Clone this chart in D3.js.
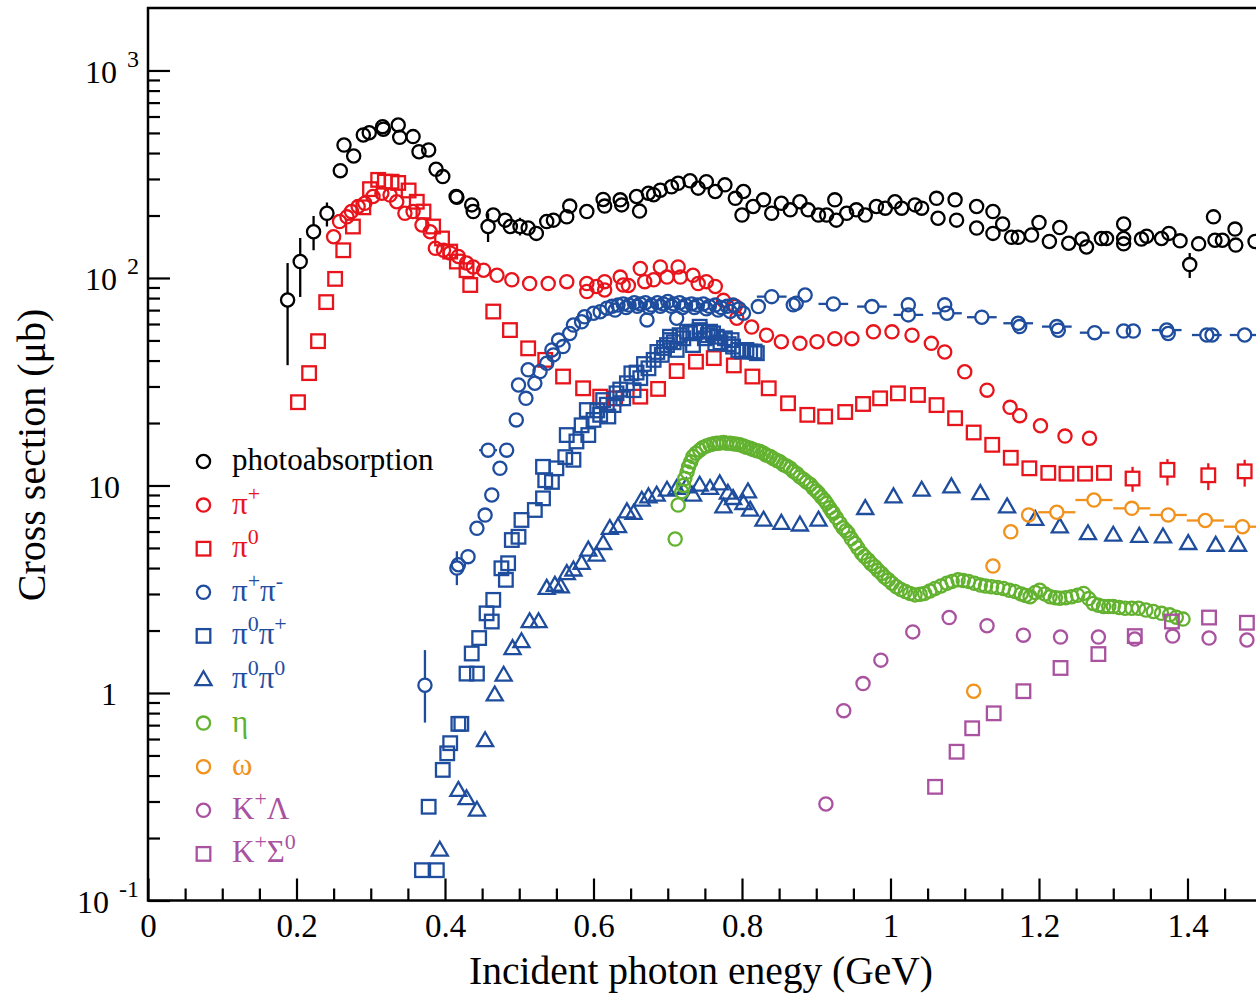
<!DOCTYPE html>
<html><head><meta charset="utf-8">
<script src="https://cdn.jsdelivr.net/npm/d3@7"></script>
<style>body{margin:0;background:#fff} svg{display:block}</style>
</head><body><svg id="c" width="1256" height="994"></svg>
<script>
// ---------------- DATA (E in GeV, cross section in microbarn) ----------------
const photoabs = [[0.188,78.3],[0.205,120],[0.223,167],[0.241,205],[0.259,329],[0.264,437],[0.277,387],[0.290,489],[0.298,501],[0.316,536],[0.317,521],[0.337,546],[0.339,476],[0.357,480],[0.365,406],[0.378,414],[0.388,334],[0.397,308],[0.415,247],[0.416,245],[0.436,225],[0.438,209],[0.458,177],[0.465,201],[0.481,190],[0.488,177],[0.501,177],[0.512,174],[0.523,164],[0.537,187],[0.546,190],[0.564,197],[0.568,222],[0.591,209],[0.613,239],[0.615,222],[0.636,238],[0.638,225],[0.658,247],[0.662,210],[0.674,256],[0.681,252],[0.690,265],[0.705,275],[0.714,286],[0.730,294],[0.741,271],[0.752,291],[0.764,261],[0.777,281],[0.791,242],[0.802,261],[0.800,201],[0.815,221],[0.829,238],[0.840,205],[0.853,229],[0.865,213],[0.878,233],[0.889,213],[0.903,201],[0.914,201],[0.925,238],[0.927,190],[0.941,205],[0.954,213],[0.966,201],[0.981,221],[0.993,217],[1.006,233],[1.015,217],[1.033,225],[1.042,217],[1.062,242],[1.064,194],[1.087,238],[1.089,190],[1.116,221],[1.116,174],[1.138,209],[1.138,164],[1.151,182],[1.163,157],[1.172,157],[1.190,161],[1.200,185],[1.214,150],[1.228,175],[1.240,147],[1.258,154],[1.264,141],[1.284,155],[1.291,155],[1.314,182],[1.314,155],[1.314,146],[1.338,154],[1.345,159],[1.365,155],[1.375,164],[1.390,151],[1.403,116],[1.415,146],[1.435,197],[1.437,152],[1.447,152],[1.464,172],[1.465,144],[1.491,150]];
const photoabsErr = [[0.188,38,118],[0.205,81,156],[0.223,136,199],[0.241,177,231],[0.458,149,205],[0.501,160,195],[1.403,100,132]];

const piPlus = [[0.250,158],[0.258,187],[0.268,197],[0.274,209],[0.283,221],[0.292,229],[0.303,247],[0.315,256],[0.326,251],[0.335,233],[0.346,205],[0.357,209],[0.369,180],[0.380,167],[0.387,139],[0.398,136],[0.407,132],[0.418,127],[0.429,118],[0.438,113],[0.452,109],[0.470,103],[0.490,98],[0.514,94],[0.539,94],[0.564,96],[0.591,94],[0.591,86],[0.604,91],[0.615,96],[0.615,87.5],[0.636,101],[0.640,92.5],[0.647,92],[0.663,111],[0.669,96],[0.681,98],[0.690,113],[0.699,101],[0.714,113],[0.717,101],[0.734,103],[0.741,94],[0.752,96],[0.764,91],[0.775,78],[0.791,73],[0.793,64],[0.813,58],[0.833,53],[0.853,49.3],[0.878,48.4],[0.901,49.3],[0.925,51],[0.948,51],[0.977,55],[1.002,55],[1.029,53],[1.055,48.4],[1.073,44],[1.100,35.3],[1.130,28.8],[1.161,23.8],[1.174,21.7],[1.202,19.4],[1.235,17.3],[1.268,16.9]];

const piZero = [[0.202,25.2],[0.217,34.8],[0.229,49.6],[0.240,76.5],[0.252,99],[0.263,136],[0.276,177],[0.290,219],[0.299,268],[0.310,297],[0.319,291],[0.328,291],[0.337,287],[0.351,264],[0.362,233],[0.371,209],[0.384,177],[0.396,155],[0.407,134],[0.416,120],[0.429,109],[0.434,92.5],[0.465,68.9],[0.4875,56.1],[0.512,45.8],[0.535,40.3],[0.559,33.5],[0.586,29.4],[0.609,26.8],[0.629,26.3],[0.663,26.8],[0.687,29.2],[0.712,35.6],[0.738,39.5],[0.762,41.1],[0.789,37.9],[0.814,33.5],[0.836,29.4],[0.862,24.9],[0.888,21.9],[0.912,21.5],[0.939,22.6],[0.963,24.7],[0.986,26.3],[1.010,27.8],[1.037,27.3],[1.062,24.4],[1.087,21.1],[1.112,18.0],[1.137,15.7],[1.162,13.6],[1.187,12.1],[1.2125,11.5],[1.237,11.4],[1.262,11.4],[1.2875,11.5],[1.326,10.8],[1.373,11.9],[1.428,11.2],[1.477,11.7]];
const piZeroErr = [[1.326,9.33,12.3],[1.373,10.0,13.4],[1.428,9.5,12.8],[1.477,9.87,13.3]];

const piPiCharged = [[0.373,1.09],[0.416,4.0],[0.418,4.15],[0.431,4.54],[0.443,6.22],[0.454,7.2],[0.463,9.0],[0.474,12.1],[0.483,14.8],[0.496,20.7],[0.499,30.5],[0.509,26.3],[0.512,36.1],[0.521,31.1],[0.528,35.4],[0.537,38.8],[0.544,45],[0.546,42.6],[0.553,50.2],[0.559,46.7],[0.568,54],[0.573,59.3],[0.584,61.5],[0.588,65],[0.600,67.6],[0.609,68.8],[0.618,71.5],[0.625,73],[0.629,70],[0.633,74],[0.640,75],[0.644,72],[0.648,74],[0.655,76],[0.659,73],[0.663,75],[0.670,76],[0.672,62.8],[0.675,72],[0.678,74],[0.686,76],[0.690,73],[0.694,75],[0.700,77],[0.705,73],[0.708,75],[0.712,64],[0.716,76],[0.720,72],[0.724,74],[0.732,75],[0.736,72],[0.740,74],[0.748,75],[0.752,71],[0.756,73],[0.764,74],[0.768,70],[0.772,72],[0.780,73],[0.784,69],[0.788,74],[0.796,71],[0.802,67.6],[0.822,72.8],[0.869,74.2],[0.873,75.5],[0.885,82.8],[1.024,74.2],[1.073,74.2],[1.174,58.3],[1.226,56],[1.314,55.5],[1.327,55.5],[1.374,54],[1.433,53.1]];
const piPiChargedErr = [[0.373,0.72,1.61],[0.416,3.31,4.82]];
const piPiChargedBinned = [[0.458,14.8,0.012],[0.840,81.3,0.02],[0.923,75,0.02],[0.975,72.8,0.02],[1.024,66.4,0.02],[1.076,67.6,0.02],[1.123,64.7,0.02],[1.172,60.5,0.02],[1.224,58.3,0.02],[1.275,54.5,0.02],[1.372,56.1,0.02],[1.426,53.1,0.02],[1.477,53.1,0.02]];

const piZeroPiPlus = [[0.369,0.14],[0.389,0.14],[0.378,0.283],[0.397,0.426],[0.403,0.512],[0.407,0.573],[0.418,0.71],[0.422,0.71],[0.429,1.24],[0.443,1.24],[0.436,1.55],[0.446,1.84],[0.456,2.42],[0.463,2.21],[0.465,2.81],[0.476,3.99],[0.482,3.51],[0.485,4.22],[0.490,5.46],[0.499,5.66],[0.503,6.82],[0.521,7.62],[0.532,8.67],[0.535,10.6],[0.544,10.4],[0.532,12.3],[0.550,12.1],[0.562,13.7],[0.564,17.5],[0.573,13.3],[0.577,16.3],[0.584,19.5],[0.593,17.5],[0.591,23.1],[0.600,20.7],[0.605,23],[0.609,21.9],[0.613,25.8],[0.618,24.5],[0.620,21.5],[0.627,24.4],[0.631,27.8],[0.636,29],[0.640,26.3],[0.645,31.1],[0.651,34.7],[0.654,28.8],[0.658,35],[0.663,32.9],[0.668,38.5],[0.674,36.7],[0.681,40.3],[0.686,44],[0.692,42.6],[0.695,46],[0.699,47.5],[0.703,52.1],[0.703,50.2],[0.708,49],[0.712,45],[0.716,53],[0.721,51.2],[0.726,55.1],[0.730,54.1],[0.734,47.5],[0.737,55],[0.743,56.1],[0.743,58.2],[0.750,51.2],[0.754,53],[0.757,55.1],[0.761,54.1],[0.764,48.4],[0.766,52.1],[0.771,49],[0.777,51.2],[0.782,48],[0.786,50.2],[0.788,46.7],[0.795,45],[0.800,44.2],[0.806,45],[0.811,44.2],[0.817,44.2],[0.820,43.4]];

const piZeroPiZero = [[0.393,0.175],[0.418,0.34],[0.429,0.31],[0.443,0.273],[0.454,0.59],[0.467,0.98],[0.479,1.22],[0.491,1.64],[0.503,1.77],[0.514,2.21],[0.526,2.21],[0.537,3.2],[0.548,3.31],[0.556,3.25],[0.564,3.77],[0.573,3.92],[0.584,4.22],[0.593,4.89],[0.604,4.62],[0.613,5.26],[0.622,6.22],[0.633,6.34],[0.645,7.48],[0.654,7.35],[0.665,8.51],[0.674,8.83],[0.685,9.0],[0.699,9.51],[0.712,9.69],[0.725,9.87],[0.734,9.0],[0.743,10.05],[0.757,9.69],[0.770,10.2],[0.775,7.9],[0.781,9.2],[0.788,8.67],[0.802,8.2],[0.808,9.33],[0.811,7.62],[0.829,6.82],[0.853,6.58],[0.878,6.46],[0.903,6.82],[0.966,7.76],[1.004,8.83],[1.042,9.51],[1.082,9.87],[1.121,9.16],[1.157,7.9],[1.195,6.87],[1.228,6.33],[1.266,5.87],[1.300,5.77],[1.335,5.7],[1.367,5.66],[1.401,5.26],[1.438,5.16],[1.468,5.16]];

const etaN = [[0.710,5.52],[0.714,8.05],[0.719,9.33],[0.721,10.0],[0.723,10.8],[0.726,11.6],[0.728,12.3],[0.731,13.0],[0.734,13.8],[0.738,14.3],[0.743,14.8],[0.747,15.2],[0.752,15.5],[0.757,15.7],[0.762,15.9],[0.766,16.0],[0.770,16.0],[0.775,16.1],[0.779,16.0],[0.784,16.0],[0.788,15.9],[0.793,15.8],[0.797,15.7],[0.802,15.5],[0.806,15.3],[0.811,15.1],[0.815,14.9],[0.820,14.7],[0.824,14.6],[0.829,14.3],[0.833,14.0],[0.838,13.8],[0.842,13.5],[0.847,13.2],[0.851,13.0],[0.856,12.6],[0.860,12.4],[0.865,12.1],[0.869,11.7],[0.874,11.4],[0.878,11.0],[0.883,10.7],[0.887,10.4],[0.892,10.1],[0.896,9.7],[0.900,9.4],[0.903,9.17],[0.907,8.8],[0.911,8.5],[0.914,8.2],[0.918,7.8],[0.921,7.5],[0.923,7.35],[0.927,7.0],[0.932,6.58],[0.936,6.25],[0.940,6.05],[0.943,5.89],[0.947,5.55],[0.952,5.26],[0.956,5.0],[0.961,4.71],[0.965,4.55],[0.970,4.37],[0.974,4.2],[0.979,4.06],[0.983,3.9],[0.988,3.77],[0.992,3.62],[0.997,3.51],[1.002,3.38],[1.008,3.25],[1.014,3.15],[1.020,3.08],[1.026,3.02],[1.033,2.97],[1.040,2.99],[1.046,3.02],[1.053,3.1],[1.060,3.19],[1.068,3.28],[1.076,3.38],[1.083,3.45],[1.091,3.51],[1.098,3.48],[1.105,3.45],[1.113,3.38],[1.121,3.31],[1.128,3.28],[1.136,3.25],[1.144,3.22],[1.152,3.19],[1.160,3.13],[1.168,3.08],[1.176,3.0],[1.182,2.95],[1.188,2.91],[1.195,3.05],[1.201,3.13],[1.208,3.0],[1.215,2.91],[1.222,2.88],[1.228,2.86],[1.236,2.88],[1.244,2.91],[1.252,2.96],[1.260,3.02],[1.267,2.85],[1.273,2.70],[1.280,2.65],[1.287,2.61],[1.294,2.61],[1.300,2.61],[1.308,2.58],[1.316,2.56],[1.325,2.56],[1.334,2.56],[1.344,2.51],[1.354,2.47],[1.365,2.42],[1.376,2.38],[1.385,2.32],[1.394,2.27]];

const omegaN = [[1.112,1.02],[1.138,4.09],[1.162,5.98],[1.186,7.21],[1.224,7.43],[1.274,8.51],[1.325,7.76],[1.374,7.21],[1.424,6.78],[1.474,6.33]];
const omegaBins = [[1.224,0.025],[1.274,0.025],[1.325,0.025],[1.374,0.025],[1.424,0.025],[1.474,0.025]];

const kLambda = [[0.913,0.292],[0.937,0.822],[0.963,1.11],[0.987,1.44],[1.030,1.97],[1.079,2.31],[1.130,2.11],[1.179,1.90],[1.229,1.86],[1.280,1.86],[1.329,1.82],[1.380,1.88],[1.429,1.84],[1.480,1.80]];
const kSigma = [[1.060,0.353],[1.089,0.521],[1.110,0.676],[1.139,0.798],[1.179,1.02],[1.229,1.32],[1.280,1.54],[1.329,1.88],[1.379,2.21],[1.429,2.31],[1.480,2.18]];

const legendLabels = ["photoabsorption","π^+","π^0","π^+π^-","π^0π^+","π^0π^0","η","ω","K^+Λ","K^+Σ^0"];
const xTicks = [0,0.2,0.4,0.6,0.8,1.0,1.2,1.4];
const yTicks = [0.1,1,10,100,1000];
const xTitle = "Incident photon enegy (GeV)";
const yTitle = "Cross section (μb)";

// ---------------- STYLE ----------------
const C = {black:"#000000", red:"#e8141b", blue:"#1f4d9e", green:"#62b22f", orange:"#f0921c", purple:"#a9529f"};
const FONT = "'Liberation Serif','Times New Roman',Times,serif";
const R = 6.6, SQ = 13.6, TRI = 112, SW = 2.3;

const series = [
  {data:photoabs, color:C.black, shape:"circle", err:photoabsErr},
  {data:piPlus, color:C.red, shape:"circle"},
  {data:piZero, color:C.red, shape:"square", err:piZeroErr},
  {data:piPiCharged, color:C.blue, shape:"circle", err:piPiChargedErr},
  {data:piPiChargedBinned.map(d=>[d[0],d[1]]), color:C.blue, shape:"circle", xerr:piPiChargedBinned},
  {data:piZeroPiPlus, color:C.blue, shape:"square"},
  {data:piZeroPiZero, color:C.blue, shape:"triangle"},
  {data:etaN, color:C.green, shape:"circle"},
  {data:omegaN, color:C.orange, shape:"circle", xerr:omegaBins.map(b=>[b[0], omegaN.find(o=>o[0]===b[0])[1], b[1]])},
  {data:kLambda, color:C.purple, shape:"circle"},
  {data:kSigma, color:C.purple, shape:"square"}
];
const legendStyle = [
  [C.black,"circle"],[C.red,"circle"],[C.red,"square"],[C.blue,"circle"],[C.blue,"square"],
  [C.blue,"triangle"],[C.green,"circle"],[C.orange,"circle"],[C.purple,"circle"],[C.purple,"square"]
];

// ---------------- SCALES ----------------
const X0 = 148, X1 = 148 + 1.5*742.5, Y0 = 900.5, Y1 = 8;
const x = d3.scaleLinear().domain([0,1.5]).range([X0, X1]);
const y = d3.scaleLog().domain([0.1,2000]).range([Y0, Y1]);

const svg = d3.select("#c");
svg.append("rect").attr("width",1256).attr("height",994).attr("fill","#fff");

svg.append("defs").append("clipPath").attr("id","clip")
  .append("rect").attr("x",X0).attr("y",Y1).attr("width",X1-X0).attr("height",Y0-Y1);

// ---------------- MARKS ----------------
function marker(g, shape, color, cx, cy){
  if(shape==="circle"){
    g.append("circle").attr("cx",cx).attr("cy",cy).attr("r",R)
      .attr("fill","none").attr("stroke",color).attr("stroke-width",SW);
  } else if(shape==="square"){
    g.append("rect").attr("x",cx-SQ/2).attr("y",cy-SQ/2).attr("width",SQ).attr("height",SQ)
      .attr("fill","none").attr("stroke",color).attr("stroke-width",SW);
  } else {
    g.append("path").attr("d",d3.symbol(d3.symbolTriangle, TRI)())
      .attr("transform",`translate(${cx},${cy+1})`)
      .attr("fill","none").attr("stroke",color).attr("stroke-width",SW);
  }
}
const plot = svg.append("g").attr("clip-path","url(#clip)");
series.forEach(s=>{
  const g = plot.append("g");
  const half = s.shape==="circle"?R:SQ/2;
  (s.err||[]).forEach(e=>{
    const cx=x(e[0]), cyv = y(s.data.find(d=>d[0]===e[0])[1]);
    g.append("line").attr("x1",cx).attr("x2",cx).attr("y1",cyv+half).attr("y2",y(e[1]))
      .attr("stroke",s.color).attr("stroke-width",SW);
    g.append("line").attr("x1",cx).attr("x2",cx).attr("y1",cyv-half).attr("y2",y(e[2]))
      .attr("stroke",s.color).attr("stroke-width",SW);
  });
  (s.xerr||[]).forEach(e=>{
    const cx=x(e[0]), cyv=y(e[1]);
    g.append("line").attr("x1",x(e[0]-e[2])).attr("x2",cx-half).attr("y1",cyv).attr("y2",cyv)
      .attr("stroke",s.color).attr("stroke-width",SW);
    g.append("line").attr("x1",cx+half).attr("x2",x(e[0]+e[2])).attr("y1",cyv).attr("y2",cyv)
      .attr("stroke",s.color).attr("stroke-width",SW);
  });
  s.data.forEach(d=>marker(g, s.shape, s.color, x(d[0]), y(d[1])));
});

// ---------------- AXES ----------------
const minorX = d3.range(0.05,1.5,0.05).filter(v=>Math.abs(v/0.2-Math.round(v/0.2))>1e-6);
const minorY = [];
[0.1,1,10,100,1000].forEach(b=>{for(let k=2;k<=9;k++){ if(b*k<2000) minorY.push(b*k);}});

const gx = svg.append("g").attr("transform",`translate(0,${Y0})`)
  .call(d3.axisBottom(x).tickValues(xTicks).tickSizeInner(-22).tickSizeOuter(0).tickPadding(13)
    .tickFormat(d=>String(+d.toFixed(1))));
const gxm = svg.append("g").attr("transform",`translate(0,${Y0})`)
  .call(d3.axisBottom(x).tickValues(minorX).tickSizeInner(-12).tickSizeOuter(0).tickFormat(""));
const gy = svg.append("g").attr("transform",`translate(${X0},0)`)
  .call(d3.axisLeft(y).tickValues(yTicks).tickSizeInner(-22).tickSizeOuter(0).tickPadding(9)
    .tickFormat(d=>String(d)));
const gym = svg.append("g").attr("transform",`translate(${X0},0)`)
  .call(d3.axisLeft(y).tickValues(minorY).tickSizeInner(-12).tickSizeOuter(0).tickFormat(""));

[gx,gxm,gy,gym].forEach(g=>{
  g.select(".domain").remove();
  g.selectAll(".tick line").attr("stroke","#000").attr("stroke-width",2.2);
  g.selectAll("text").attr("font-family",FONT).attr("fill","#000");
});
gx.selectAll(".tick text").attr("font-size",33);
gy.selectAll(".tick text").each(function(d){
  const t = d3.select(this).text(null).attr("font-size",32).attr("dy","0.37em");
  if(d===1){ t.text("1").attr("x",-31); }
  else if(d===10){ t.text("10").attr("x",-28); }
  else {
    const e = Math.round(Math.log10(d));
    t.attr("x",-9);
    t.append("tspan").text("10");
    t.append("tspan").attr("dx",10).attr("dy",-16).attr("font-size",24).text(String(e));
  }
});

// frame
svg.append("rect").attr("x",X0).attr("y",Y1).attr("width",X1-X0).attr("height",Y0-Y1)
  .attr("fill","none").attr("stroke","#000").attr("stroke-width",2.5);

// titles
svg.append("text").attr("x",701).attr("y",984).attr("text-anchor","middle")
  .attr("font-family",FONT).attr("font-size",39.5).text(xTitle);
svg.append("text").attr("transform","translate(45,455) rotate(-90)").attr("text-anchor","middle")
  .attr("font-family",FONT).attr("font-size",40).text(yTitle);

// ---------------- LEGEND ----------------
const lg = svg.append("g");
legendLabels.forEach((lab,i)=>{
  const cy = 461.5 + i*43.6;
  const [col,shape] = legendStyle[i];
  marker(lg, shape, col, 203.5, cy);
  const t = lg.append("text").attr("x",232).attr("y",cy+8.5).attr("font-family",FONT)
    .attr("font-size",31).attr("fill",col);
  const parts = [];
  for(let k=0;k<lab.length;k++){
    if(lab[k]==="^"){ parts.push([lab[k+1],true]); k++; }
    else parts.push([lab[k],false]);
  }
  let up=false;
  parts.forEach(([ch,sup])=>{
    const sp = t.append("tspan").text(ch);
    if(sup && !up){ sp.attr("dy",-13).attr("font-size",22); up=true; }
    else if(sup){ sp.attr("font-size",22); }
    else if(!sup && up){ sp.attr("dy",13); up=false; }
  });
});
</script></body></html>
